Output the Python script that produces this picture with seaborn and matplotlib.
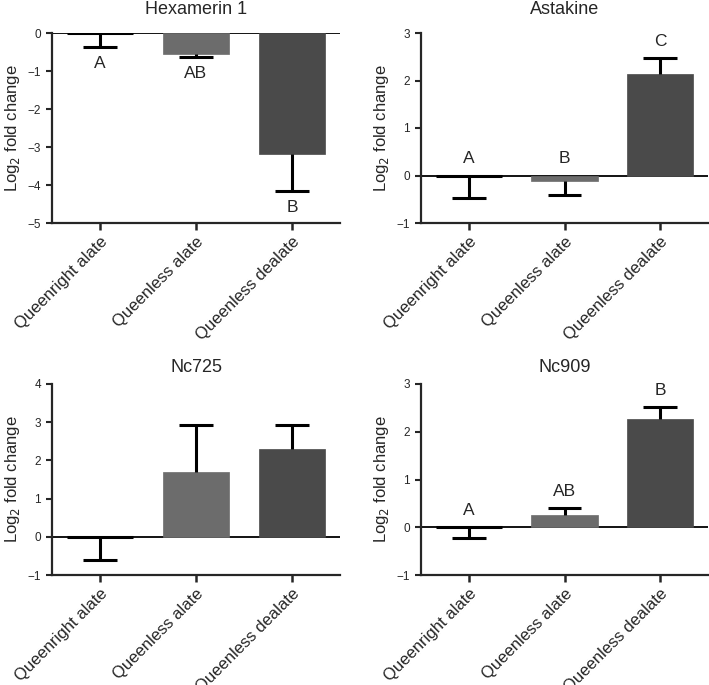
import matplotlib
matplotlib.use('Agg')
import matplotlib.pyplot as plt
import numpy as np
import seaborn as sns

# group labels and bar colours
groups = ['Queenright alate', 'Queenless alate', 'Queenless dealate']
bar_colors = ['#000000', '#6c6c6c', '#4a4a4a']

# mean log2 fold change and one-sided error (away from zero)
hexamerin_mean = [0.0, -0.55, -3.18]
hexamerin_err = [0.36, 0.08, 0.97]
hexamerin_letters = ['A', 'AB', 'B']

astakine_mean = [0.0, -0.12, 2.13]
astakine_err = [0.48, 0.28, 0.34]
astakine_letters = ['A', 'B', 'C']

nc725_mean = [0.0, 1.69, 2.31]
nc725_err = [0.62, 1.23, 0.61]

nc909_mean = [0.0, 0.26, 2.26]
nc909_err = [0.23, 0.15, 0.26]
nc909_letters = ['A', 'AB', 'B']

sns.set_style('ticks')
plt.rcParams['font.family'] = ['Liberation Sans', 'DejaVu Sans']
plt.rcParams['axes.unicode_minus'] = True

fig = plt.figure(figsize=(7.09, 6.85), dpi=100)

W, H = 709, 685


def add_ax(left, top, right, bottom):
    return fig.add_axes([left / W, 1 - bottom / H, (right - left) / W, (bottom - top) / H])


def draw_panel(ax, title, means, errs, ylim, letters=None, letter_side='above', title_pad=10):
    sns.barplot(x=groups, y=means, hue=groups, palette=bar_colors, legend=False,
                errorbar=None, width=0.69, ax=ax, zorder=2)
    for p, c in zip(ax.patches, bar_colors):
        p.set_edgecolor(c)
        p.set_linewidth(2.2 if c == '#000000' else 0.5)

    means = np.array(means)
    errs = np.array(errs)
    # error drawn only on the side away from zero (down for zero bars)
    sign = np.where(means > 0, 1, -1)
    tips = means + sign * errs
    xs = np.arange(3)
    ax.vlines(xs, means, tips, color='black', lw=2.2, zorder=3)
    ax.hlines(tips, xs - 0.175, xs + 0.175, color='black', lw=2.2, zorder=3)

    ax.axhline(0, color='black', lw=1.3, zorder=1)

    if letters is not None:
        for i, lab in enumerate(letters):
            if letter_side == 'above':
                anchor = max(0, tips[i])
                off = 12
            else:
                anchor = min(0, tips[i])
                off = -12
            ax.annotate(lab, xy=(i, anchor), xytext=(0, off), textcoords='offset points',
                        ha='center', va='center', fontsize=12.5)

    ax.set_ylim(*ylim)
    ax.set_xlim(-0.5, 2.5)
    ax.set_yticks(np.arange(ylim[0], ylim[1] + 1, 1))
    ax.set_title(title, fontsize=13, pad=title_pad)
    ax.set_ylabel('Log$_2$ fold change', fontsize=12)
    ax.set_xlabel('')
    ax.set_xticks(range(3))
    ax.set_xticklabels(groups, rotation=45, ha='right', va='top', rotation_mode='anchor',
                       fontsize=12)
    ax.tick_params(axis='y', labelsize=8.5, width=1.5, length=4, pad=4)
    ax.tick_params(axis='x', width=1.8, length=5, pad=3)
    sns.despine(ax=ax)
    for s in ['left', 'bottom']:
        ax.spines[s].set_linewidth(1.6)


ax1 = add_ax(52, 33, 340, 223)
draw_panel(ax1, 'Hexamerin 1', hexamerin_mean, hexamerin_err, (-5, 0),
           hexamerin_letters, 'below', title_pad=14)

ax2 = add_ax(421, 33, 708, 223)
draw_panel(ax2, 'Astakine', astakine_mean, astakine_err, (-1, 3),
           astakine_letters, 'above', title_pad=14)

ax3 = add_ax(52, 384, 340, 575)
draw_panel(ax3, 'Nc725', nc725_mean, nc725_err, (-1, 4), title_pad=9)

ax4 = add_ax(421, 384, 708, 575)
draw_panel(ax4, 'Nc909', nc909_mean, nc909_err, (-1, 3),
           nc909_letters, 'above', title_pad=9)

fig.savefig('out.png', dpi=100)
